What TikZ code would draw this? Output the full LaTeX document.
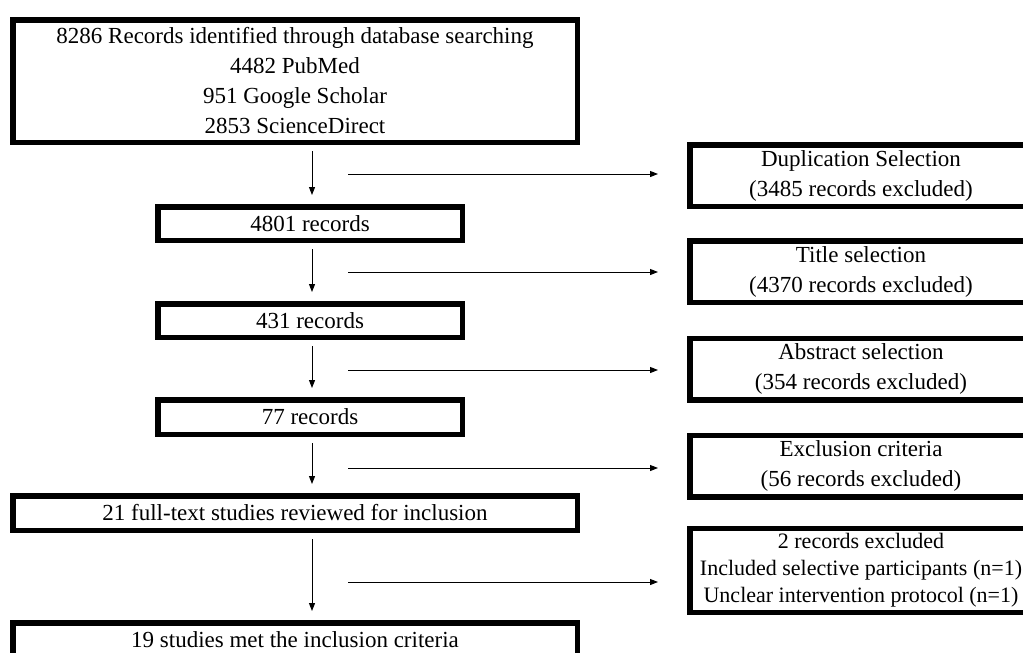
\documentclass[tikz,border=0pt]{standalone}
\usepackage{fontspec}
\setmainfont{Liberation Serif}
\usetikzlibrary{arrows.meta}

\begin{document}
\begin{tikzpicture}[
  x=1pt,y=-1pt,
  font=\fontsize{23}{30}\selectfont,
  stage/.style={draw,line width=5.5pt,fill=white,align=center,inner sep=1pt,
                minimum width=304.5pt,minimum height=33.5pt},
  widestage/.style={stage,minimum width=564.5pt,minimum height=34.5pt},
  outbox/.style={stage,minimum width=342.5pt,minimum height=61.5pt},
  arr/.style={-{Triangle[length=8pt,width=6pt]},line width=1pt}
]

% ---- page frame ----
\useasboundingbox (0,0) rectangle (1023,653);
\clip (0,0) rectangle (1023,653);

% ---- columns ----
\def\xW{295}   % wide boxes
\def\xN{310}   % narrow boxes
\def\xR{861}   % exclusion boxes

% ---- main flow (left) ----
\node[widestage,minimum height=122.5pt] (src) at (\xW,81)
  {8286 Records identified through database searching\\
   4482 PubMed\\
   951 Google Scholar\\
   2853 ScienceDirect};
\node[stage] (n4801) at (\xN,223.5) {4801 records};
\node[stage] (n431)  at (\xN,320.5) {431 records};
\node[stage,minimum height=34.5pt] (n77) at (\xN,417) {77 records};
\node[widestage] (full) at (\xW,513) {21 full-text studies reviewed for inclusion};
\node[widestage] (met)  at (\xW,640) {19 studies met the inclusion criteria};

% ---- exclusions (right) ----
\node[outbox] (dup)   at (\xR,175.5) {Duplication Selection\\(3485 records excluded)};
\node[outbox] (title) at (\xR,271.5) {Title selection\\(4370 records excluded)};
\node[outbox] (abstr) at (\xR,369)   {Abstract selection\\(354 records excluded)};
\node[outbox] (crit)  at (\xR,466)   {Exclusion criteria\\(56 records excluded)};
\node[outbox,minimum height=84pt,inner sep=0pt,
      font=\fontsize{22}{27}\selectfont] (two) at (\xR,570.5)
  {2 records excluded\\
   Included selective participants (n=1)\\
   Unclear intervention protocol (n=1)};

% ---- vertical arrows ----
\coordinate (axis) at (312,0);
\foreach \A/\B in {src/n4801,n4801/n431,n431/n77,n77/full,full/met}{
  \draw[arr,shorten <=6pt,shorten >=9pt] (\A.south -| axis) -- (\B.north -| axis);
}

% ---- horizontal arrows ----
\foreach \i/\y/\B in {1/174/dup,2/272/title,3/370/abstr,4/468/crit,5/582/two}{
  \coordinate (hs\i) at (348,\y);
  \draw[arr,shorten >=29pt] (hs\i) -- (hs\i -| \B.west);
}

\end{tikzpicture}
\end{document}
